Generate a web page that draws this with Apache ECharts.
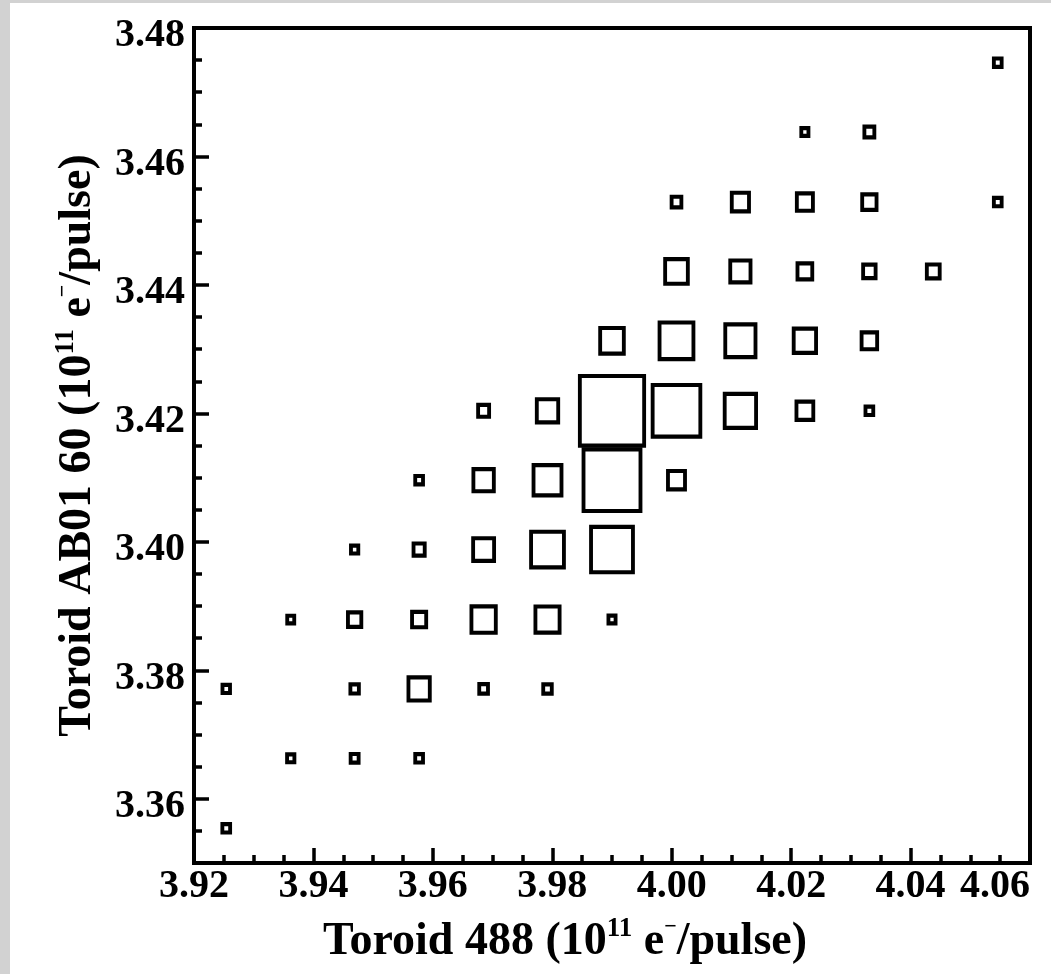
<!DOCTYPE html>
<html><head><meta charset="utf-8">
<script src="https://cdn.jsdelivr.net/npm/echarts@6/dist/echarts.min.js"></script>
<style>html,body{margin:0;padding:0;background:#d2d2d2}#c{width:1051px;height:974px}</style>
</head><body><div id="c"></div>
<script>
// Axis ranges
const xRange = [3.92, 4.06];
const yRange = [3.35, 3.48];
// Bin centres (10^11 e-/pulse)
const xCenters = [3.9254, 3.9362, 3.9469, 3.9577, 3.9685, 3.9792, 3.9900, 4.0008, 4.0115, 4.0223, 4.0331, 4.0438, 4.0546];
const yCenters = [3.3554, 3.3663, 3.3771, 3.3879, 3.3988, 3.4096, 3.4204, 3.4313, 3.4421, 3.4529, 3.4638, 3.4746];
// Cells: [x bin, y bin, relative content (% of the fullest bin)]
const cells = [
  [12,11,12.1],
  [9,10,11.1],[10,10,15.5],
  [7,9,15.2],[8,9,26.8],[9,9,25.0],[10,9,22.3],[12,9,12.1],
  [7,8,35.3],[8,8,31.5],[9,8,23.0],[10,8,19.4],[11,8,20.0],
  [6,7,36.8],[7,7,52.7],[8,7,47.0],[9,7,34.8],[10,7,24.2],
  [4,6,17.1],[5,6,33.3],[6,6,100],[7,6,74.2],[8,6,48.8],[9,6,26.2],[10,6,12.1],
  [3,5,12.1],[4,5,31.8],[5,5,43.5],[6,5,88.6],[7,5,26.5],
  [2,4,11.4],[3,4,17.4],[4,4,32.6],[5,4,51.1],[6,4,65.2],
  [1,3,10.9],[2,3,20.8],[3,3,22.0],[4,3,37.9],[5,3,37.6],[6,3,11.1],
  [0,2,11.7],[2,2,13.2],[3,2,33.2],[4,2,13.6],[5,2,13.3],
  [1,1,11.4],[2,1,12.4],[3,1,12.1],
  [0,0,12.1]
];
const xTitle = 'Toroid 488 (10{sup|11} e{mn|\u2212}/pulse)';
const yTitle = 'Toroid AB01 60 (10{sup|11} e{mn|\u2212}/pulse)';

const W = 1051, H = 974;
const GRID = {left: 194, top: 28, right: 21, bottom: 111};
const gridW = W - GRID.left - GRID.right;
const gridH = H - GRID.top - GRID.bottom;
const xStep = (xCenters[xCenters.length - 1] - xCenters[0]) / (xCenters.length - 1);
const yStep = (yCenters[yCenters.length - 1] - yCenters[0]) / (yCenters.length - 1);
const binWpx = xStep * gridW / (xRange[1] - xRange[0]);
const binHpx = yStep * gridH / (yRange[1] - yRange[0]);

const data = cells.map(c => [xCenters[c[0]], yCenters[c[1]], c[2]]);

const FONT = 'Liberation Serif';
const nameStyle = {
  fontFamily: FONT, fontWeight: 'bold', fontSize: 46, color: '#000', lineHeight: 52,
  rich: {
    sup: {fontFamily: FONT, fontWeight: 'bold', fontSize: 27, lineHeight: 27, verticalAlign: 'top', color: '#000'},
    mn: {fontFamily: FONT, fontWeight: 'bold', fontSize: 22, lineHeight: 34, verticalAlign: 'top', color: '#000'}
  }
};
const axisCommon = {
  type: 'value',
  axisLine: {show: true, onZero: false, lineStyle: {color: '#000', width: 4}},
  axisTick: {show: true, inside: true, length: 15, lineStyle: {color: '#000', width: 3.5}},
  minorTick: {show: true, splitNumber: 4, length: 8, lineStyle: {color: '#000', width: 3.5}},
  splitLine: {show: false},
  minorSplitLine: {show: false}
};

const chart = echarts.init(document.getElementById('c'), null, {renderer: 'canvas'});
chart.setOption({
  backgroundColor: '#d2d2d2',
  animation: false,
  graphic: [{
    type: 'rect', z: -100, silent: true,
    shape: {x: 10, y: 3, width: W - 10, height: H - 3},
    style: {fill: '#ffffff'}
  }],
  grid: Object.assign({show: true, backgroundColor: '#fff', borderColor: '#000', borderWidth: 4, outerBoundsMode: 'none'}, GRID),
  xAxis: Object.assign({}, axisCommon, {
    min: xRange[0], max: xRange[1], interval: 0.02,
    axisLabel: {color: '#000', fontFamily: FONT, fontWeight: 'bold', fontSize: 40, margin: 4,
      formatter: v => v.toFixed(2), showMinLabel: true, showMaxLabel: true, alignMaxLabel: 'right'},
    name: xTitle, nameLocation: 'middle', nameGap: 53,
    nameTextStyle: Object.assign({}, nameStyle, {padding: [0, 94, 0, 0]})
  }),
  yAxis: Object.assign({}, axisCommon, {
    min: yRange[0], max: yRange[1], splitNumber: 7,
    axisLabel: {color: '#000', fontFamily: FONT, fontWeight: 'bold', fontSize: 40, margin: 9,
      verticalAlign: 'top', lineHeight: 16,
      formatter: v => (Math.abs(v * 50 - Math.round(v * 50)) < 1e-6 ? v.toFixed(2) : '')},
    name: yTitle, nameLocation: 'middle', nameGap: 86, nameRotate: 90,
    nameTextStyle: nameStyle
  }),
  series: [{
    type: 'scatter',
    data: data,
    symbol: 'rect',
    symbolSize: v => [v[2] / 100 * binWpx, v[2] / 100 * binHpx],
    itemStyle: {color: 'rgba(0,0,0,0)', borderColor: '#000', borderWidth: 4, opacity: 1},
    emphasis: {disabled: true},
    z: 3
  }]
});
</script>
</body></html>
